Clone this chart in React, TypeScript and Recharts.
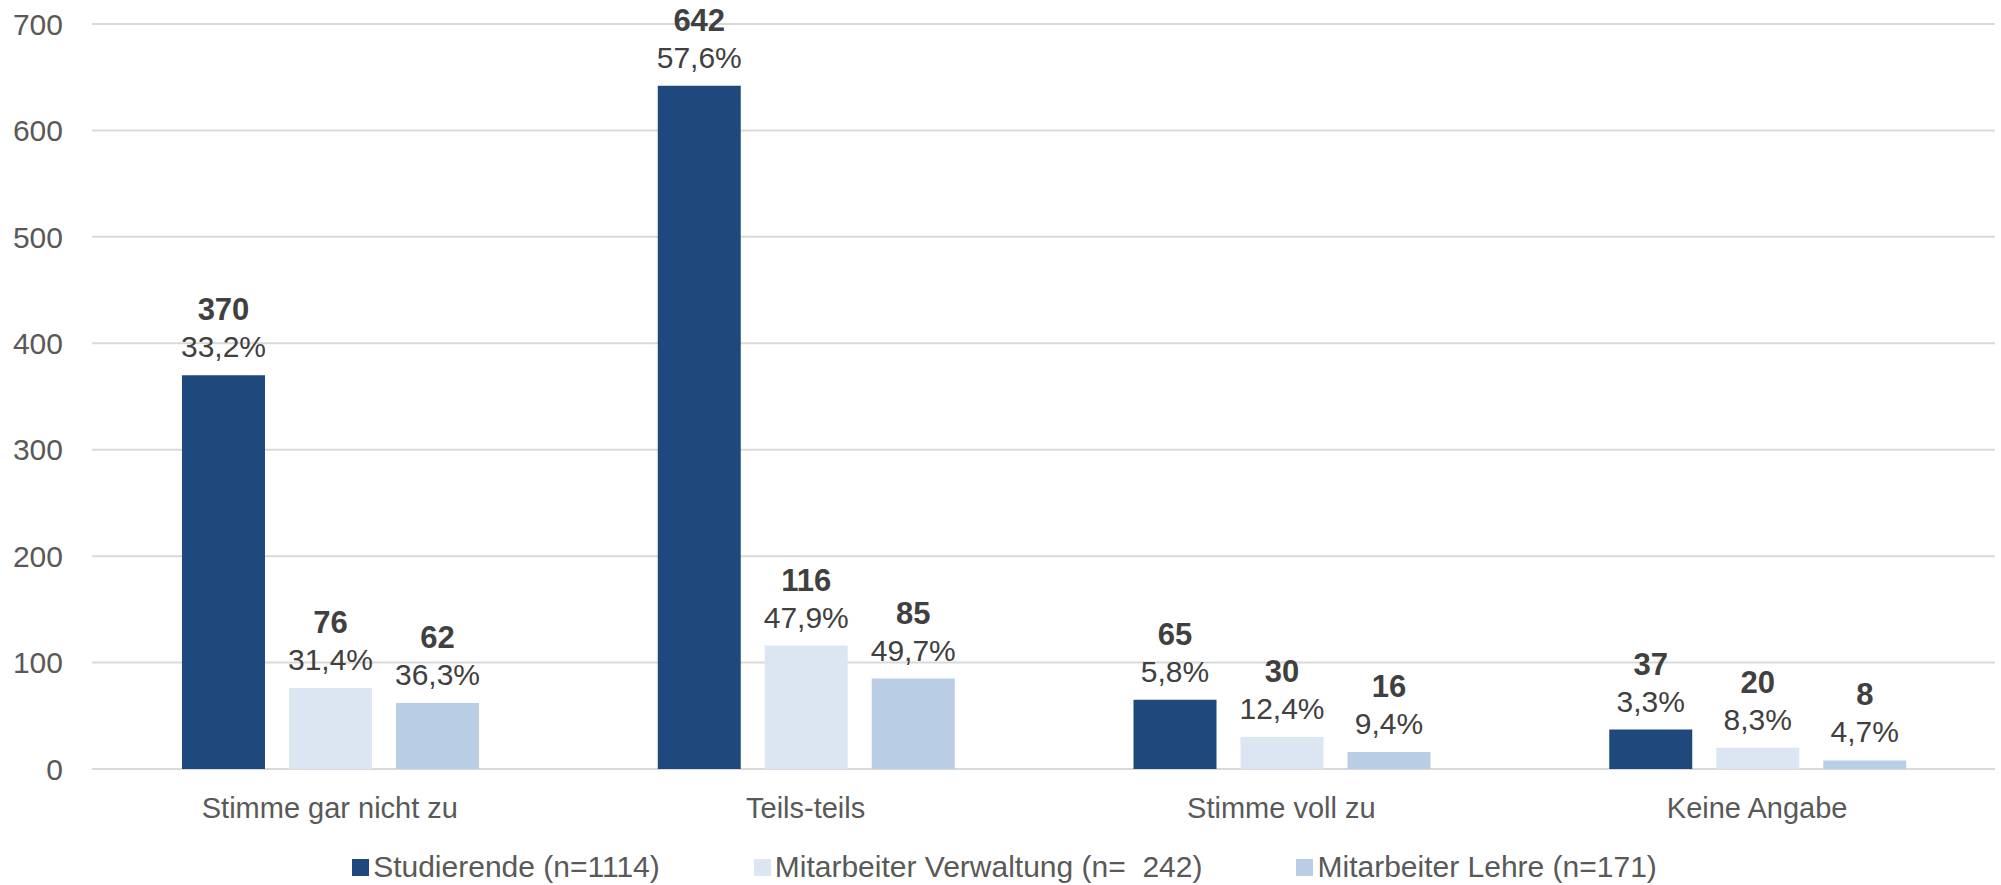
import React from "react"
import {
  BarChart,
  Bar,
  XAxis,
  YAxis,
  CartesianGrid,
  Legend,
  LabelList,
} from "recharts"

const categories = [
  "Stimme gar nicht zu",
  "Teils-teils",
  "Stimme voll zu",
  "Keine Angabe",
]

const studierende = [370, 642, 65, 37]
const studierendePct = ["33,2%", "57,6%", "5,8%", "3,3%"]

const verwaltung = [76, 116, 30, 20]
const verwaltungPct = ["31,4%", "47,9%", "12,4%", "8,3%"]

const lehre = [62, 85, 16, 8]
const lehrePct = ["36,3%", "49,7%", "9,4%", "4,7%"]

const yTicks = [0, 100, 200, 300, 400, 500, 600, 700]

const seriesNames = [
  "Studierende (n=1114)",
  "Mitarbeiter Verwaltung (n=  242)",
  "Mitarbeiter Lehre (n=171)",
]

const data = categories.map((name, i) => ({
  name,
  studierende: studierende[i],
  verwaltung: verwaltung[i],
  lehre: lehre[i],
}))

const FONT = "'Liberation Sans', Arial, sans-serif"

// two-line label: bold count, percent below it
const makeLabel = (pcts: string[]) => (props: any) => {
  const { x, y, width, value, index } = props
  const cx = Number(x) + Number(width) / 2
  const top = Number(y)
  return (
    <g>
      <text
        x={cx}
        y={top - 55}
        textAnchor="middle"
        fontSize={31}
        fontWeight="bold"
        fill="#404040"
        fontFamily={FONT}
      >
        {value}
      </text>
      <text
        x={cx}
        y={top - 18}
        textAnchor="middle"
        fontSize={30}
        fill="#404040"
        fontFamily={FONT}
      >
        {pcts[index]}
      </text>
    </g>
  )
}

const renderLegend = (props: any) => {
  // keep the series order of the original legend
  const payload = [...(props.payload || [])].sort(
    (a: any, b: any) => seriesNames.indexOf(a.value) - seriesNames.indexOf(b.value)
  )
  return (
    <div
      style={{
        height: 36,
        display: "flex",
        justifyContent: "center",
        alignItems: "center",
        paddingLeft: 14,
        fontFamily: FONT,
        fontSize: 30,
        color: "#595959",
      }}
    >
      {payload.map((entry: any, i: number) => (
        <div
          key={i}
          style={{
            display: "flex",
            alignItems: "center",
            marginRight: i < payload.length - 1 ? 94 : 0,
          }}
        >
          <span
            style={{
              width: 17,
              height: 17,
              background: entry.color,
              display: "inline-block",
              marginRight: 4,
            }}
          />
          <span style={{ whiteSpace: "pre" }}>{entry.value}</span>
        </div>
      ))}
    </div>
  )
}

const App = () => {
  return (
    <div
      style={{
        position: "absolute",
        left: 0,
        top: 0,
        width: 2001,
        height: 885,
        background: "#fff",
        fontFamily: FONT,
      }}
    >
      <BarChart
        width={2001}
        height={885}
        data={data}
        margin={{ top: 24, right: 6, left: 0, bottom: 0 }}
        barCategoryGap={90}
        barGap={24}
      >
        <CartesianGrid vertical={false} stroke="#d9d9d9" strokeWidth={2} />
        <XAxis
          dataKey="name"
          height={80}
          tickLine={false}
          axisLine={false}
          tickSize={0}
          tickMargin={28}
          interval={0}
          tick={{ fill: "#595959", fontSize: 29, fontFamily: FONT }}
        />
        <YAxis
          width={92}
          domain={[0, 700]}
          ticks={yTicks}
          tickLine={false}
          axisLine={false}
          tickSize={0}
          tickMargin={29}
          tick={{ fill: "#595959", fontSize: 30, fontFamily: FONT }}
        />
        <Legend verticalAlign="bottom" content={renderLegend} />
        <Bar
          dataKey="studierende"
          name={seriesNames[0]}
          fill="#1f497d"
          isAnimationActive={false}
        >
          <LabelList dataKey="studierende" content={makeLabel(studierendePct)} />
        </Bar>
        <Bar
          dataKey="verwaltung"
          name={seriesNames[1]}
          fill="#dce6f2"
          isAnimationActive={false}
        >
          <LabelList dataKey="verwaltung" content={makeLabel(verwaltungPct)} />
        </Bar>
        <Bar
          dataKey="lehre"
          name={seriesNames[2]}
          fill="#b9cde5"
          isAnimationActive={false}
        >
          <LabelList dataKey="lehre" content={makeLabel(lehrePct)} />
        </Bar>
      </BarChart>
    </div>
  )
}

export default App
